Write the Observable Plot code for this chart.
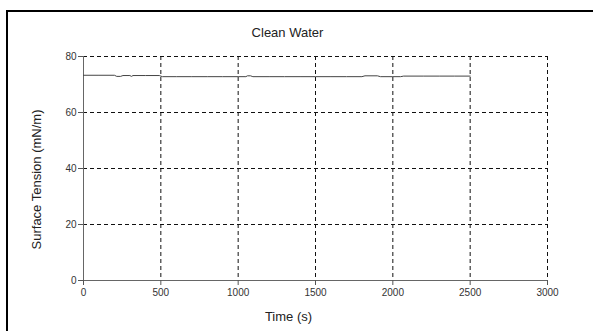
<!DOCTYPE html>
<html><head><meta charset="utf-8">
<script src="https://cdn.jsdelivr.net/npm/d3@7"></script>
<script src="https://cdn.jsdelivr.net/npm/@observablehq/plot@0.6"></script>
<style>
html,body{margin:0;padding:0;background:#fff;overflow:hidden;}
#wrap{position:relative;width:593px;height:331px;overflow:hidden;font-family:"Liberation Sans",Arial,sans-serif;}
#frameL{position:absolute;left:6px;top:10px;width:2px;height:330px;background:#000;}
#frameT{position:absolute;left:6px;top:10px;width:587px;height:2px;background:#000;}
#chart{position:absolute;left:0;top:0;}
</style>
</head><body>
<div id="wrap"><div id="frameL"></div><div id="frameT"></div><div id="chart"></div></div>
<script>
const chartTitle = "Clean Water";
const xLabel = "Time (s)";
const yLabel = "Surface Tension (mN/m)";
const xTicks = [0, 500, 1000, 1500, 2000, 2500, 3000];
const yTicks = [0, 20, 40, 60, 80];
const time =    [0, 100, 200, 215, 240, 255, 300, 310, 320, 400, 490, 510, 600, 700, 800, 900, 1000, 1050, 1060, 1080, 1095, 1200, 1300, 1400, 1500, 1600, 1700, 1800, 1820, 1900, 1920, 2000, 2050, 2070, 2200, 2300, 2400, 2500];
const tension = [73.3, 73.3, 73.3, 72.9, 72.9, 73.2, 73.2, 72.9, 73.2, 73.2, 73.2, 72.8, 72.8, 72.8, 72.8, 72.8, 72.8, 72.8, 73.1, 73.1, 72.8, 72.8, 72.8, 72.8, 72.8, 72.8, 72.8, 72.8, 73.1, 73.1, 72.8, 72.8, 72.8, 73.0, 73.0, 73.0, 73.0, 73.0];

const data = time.map((t, i) => ({t, v: tension[i]}));

const plot = Plot.plot({
  width: 593,
  height: 331,
  marginLeft: 83,
  marginRight: 46,
  marginTop: 56,
  marginBottom: 51,
  style: {fontFamily: '"Liberation Sans", Arial, sans-serif', background: "transparent", overflow: "visible"},
  x: {domain: [0, 3000], ticks: xTicks},
  y: {domain: [0, 80], ticks: yTicks},
  marks: [
    Plot.gridX(xTicks.filter(d => d > 0), {stroke: "#111", strokeOpacity: 1, strokeDasharray: "4,3"}),
    Plot.gridY(yTicks.filter(d => d > 0), {stroke: "#111", strokeOpacity: 1, strokeDasharray: "4,3"}),
    Plot.ruleX([0], {stroke: "#666"}),
    Plot.ruleY([0], {stroke: "#666"}),
    Plot.axisX(xTicks, {tickSize: 5, tickPadding: 3, tickFormat: "d", fontSize: 10, fill: "#333", stroke: "#555", label: null}),
    Plot.axisY(yTicks, {tickSize: 5, tickPadding: 2, fontSize: 10, fill: "#333", stroke: "#555", label: null}),
    Plot.line(data, {x: "t", y: "v", stroke: "#444", strokeWidth: 1}),
    Plot.text([chartTitle], {frameAnchor: "top", dx: -28, dy: -24, lineAnchor: "middle", fontSize: 13, fill: "#222"}),
    Plot.text([xLabel], {frameAnchor: "bottom", dx: -27, dy: 36, lineAnchor: "middle", fontSize: 13, fill: "#222"}),
    Plot.text([yLabel], {frameAnchor: "left", dx: -47, dy: 11, rotate: -90, textAnchor: "middle", lineAnchor: "middle", fontSize: 13, fill: "#222"})
  ]
});
document.getElementById("chart").appendChild(plot);
</script>
</body></html>
